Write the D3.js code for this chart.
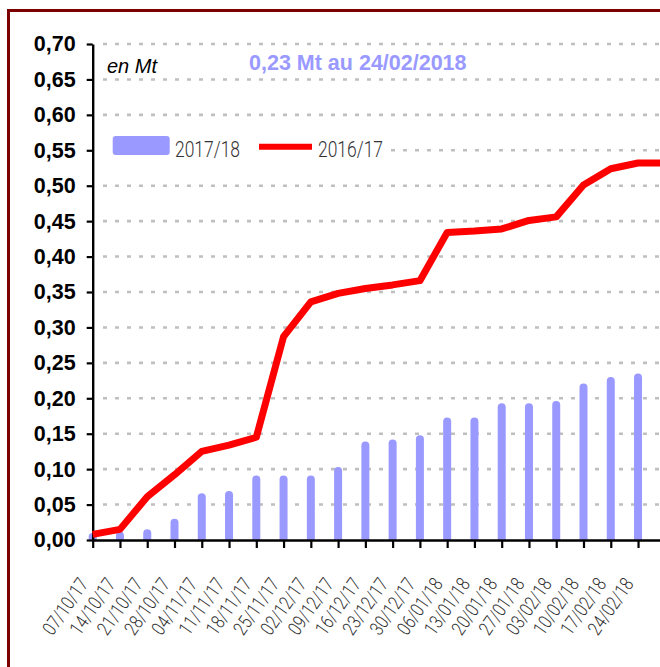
<!DOCTYPE html>
<html>
<head>
<meta charset="utf-8">
<script src="https://cdn.jsdelivr.net/npm/d3@7"></script>
<style>
    body { margin: 0; overflow: hidden; background: #fff; }
    svg { display: block; }
</style>
</head>
<body>
<script>
// weekly dates (last one only carries the 2016/17 line, no label)
var dates = ["07/10/17", "14/10/17", "21/10/17", "28/10/17", "04/11/17", "11/11/17", "18/11/17",
    "25/11/17", "02/12/17", "09/12/17", "16/12/17", "23/12/17", "30/12/17", "06/01/18",
    "13/01/18", "20/01/18", "27/01/18", "03/02/18", "10/02/18", "17/02/18", "24/02/18", "03/03/18"];
// 2017/18 bars (Mt)
var vol1718 = [0.010, 0.012, 0.015, 0.030, 0.066, 0.069, 0.091, 0.091, 0.091, 0.103, 0.139,
    0.142, 0.148, 0.173, 0.173, 0.193, 0.193, 0.196, 0.221, 0.230, 0.235];
// 2016/17 line (Mt)
var vol1617 = [0.008, 0.015, 0.061, 0.092, 0.125, 0.134, 0.145, 0.287, 0.336, 0.348, 0.355,
    0.360, 0.366, 0.434, 0.436, 0.439, 0.451, 0.456, 0.501, 0.524, 0.532, 0.532];
var yTicks = [0, 0.05, 0.10, 0.15, 0.20, 0.25, 0.30, 0.35, 0.40, 0.45, 0.50, 0.55, 0.60, 0.65, 0.70];
var series = ["2017/18", "2016/17"];
var unitLabel = "en Mt",
    title = "0,23 Mt au 24/02/2018";

var W = 660, H = 667,
    barColor = "#9999ff", lineColor = "#ff0000",
    lightFont = "Roboto, 'Open Sans', sans-serif",
    armFont = "'Liberation Sans', Arial, sans-serif";

var svg = d3.select("body").append("svg").attr("width", W).attr("height", H);

// frame (runs off the right and bottom edges)
svg.append("rect")
    .attr("x", 8.5).attr("y", 10.5).attr("width", 720).attr("height", 720)
    .attr("fill", "#fff").attr("stroke", "#7b0000").attr("stroke-width", 3);

var x = d3.scalePoint().domain(dates).range([92.7, 665.3]),
    y = d3.scaleLinear().domain([0, 0.7]).range([540, 44]);

var fmt = function (d) { return d3.format(".2f")(d).replace(".", ","); };

// dotted gridlines
svg.append("g").selectAll("line").data(yTicks.filter(function (d) { return d > 0; }))
    .enter().append("line")
    .attr("x1", 103).attr("x2", W)
    .attr("y1", function (d) { return y(d); })
    .attr("y2", function (d) { return y(d); })
    .attr("stroke", "#bfbfbf").attr("stroke-width", 2.6)
    .attr("stroke-dasharray", "4 8");

// clip below the x axis so the rounded bar bottoms disappear
svg.append("clipPath").attr("id", "plotclip")
    .append("rect").attr("x", 0).attr("y", 0).attr("width", W).attr("height", y(0));

svg.append("g").attr("clip-path", "url(#plotclip)")
    .selectAll("rect").data(vol1718)
    .enter().append("rect")
    .attr("x", function (d, i) { return x(dates[i]) - 4; })
    .attr("width", 8)
    .attr("y", function (d) { return y(d); })
    .attr("height", function (d) { return y(0) - y(d) + 8; })
    .attr("rx", 4)
    .attr("fill", barColor);

// axes
var yAxis = d3.axisLeft(y).tickValues(yTicks).tickFormat(fmt).tickSize(6).tickSizeOuter(0).tickPadding(11);
var gy = svg.append("g").attr("transform", "translate(92.7,0)").call(yAxis);
gy.selectAll("text").attr("font-family", armFont).attr("font-weight", "bold")
    .attr("font-size", "21.5px").attr("fill", "#000");

var xAxis = d3.axisBottom(x).tickValues(dates.slice(0, vol1718.length)).tickSize(8).tickSizeOuter(0);
var gx = svg.append("g").attr("transform", "translate(0," + y(0) + ")").call(xAxis);
gx.selectAll("text")
    .attr("x", 0).attr("y", 0).attr("dy", 0)
    .attr("transform", "translate(-4,44) rotate(-55)")
    .style("text-anchor", "end")
    .attr("textLength", 64).attr("lengthAdjust", "spacingAndGlyphs")
    .attr("font-family", lightFont).attr("font-weight", 300)
    .attr("font-size", "19.5px").attr("fill", "#333");

[gx, gy].forEach(function (g) {
    g.select(".domain").attr("stroke", "#000").attr("stroke-width", 2.4);
    g.selectAll(".tick line").attr("stroke", "#000").attr("stroke-width", 2.2);
});

// 2016/17 line
var line = d3.line()
    .x(function (d, i) { return x(dates[i]); })
    .y(function (d) { return y(d); });

svg.append("path").datum(vol1617)
    .attr("d", line)
    .attr("fill", "none").attr("stroke", lineColor).attr("stroke-width", 7)
    .attr("stroke-linejoin", "round");

// unit and title
svg.append("text").attr("x", 107).attr("y", 72.5).text(unitLabel)
    .attr("font-family", armFont).attr("font-style", "italic").attr("font-size", "20px").attr("fill", "#000");

svg.append("text").attr("x", 249).attr("y", 69.5).text(title)
    .attr("font-family", armFont).attr("font-weight", "bold").attr("font-size", "21.5px").attr("fill", barColor);

// legend
var lg = svg.append("g");
lg.append("rect").attr("x", 96).attr("y", 132).attr("width", 292).attr("height", 30).attr("fill", "#fff");
lg.append("rect").attr("x", 112.7).attr("y", 136).attr("width", 57).attr("height", 19).attr("rx", 3)
    .attr("fill", barColor);
lg.append("text").attr("x", 175).attr("y", 157).text(series[0]);
lg.append("line").attr("x1", 259).attr("x2", 312).attr("y1", 146.7).attr("y2", 146.7)
    .attr("stroke", lineColor).attr("stroke-width", 6);
lg.append("text").attr("x", 318).attr("y", 157).text(series[1]);
lg.selectAll("text").attr("font-family", lightFont).attr("font-weight", 300)
    .attr("font-size", "22px").attr("textLength", 65).attr("lengthAdjust", "spacingAndGlyphs")
    .attr("fill", "#333");
</script>
</body>
</html>
